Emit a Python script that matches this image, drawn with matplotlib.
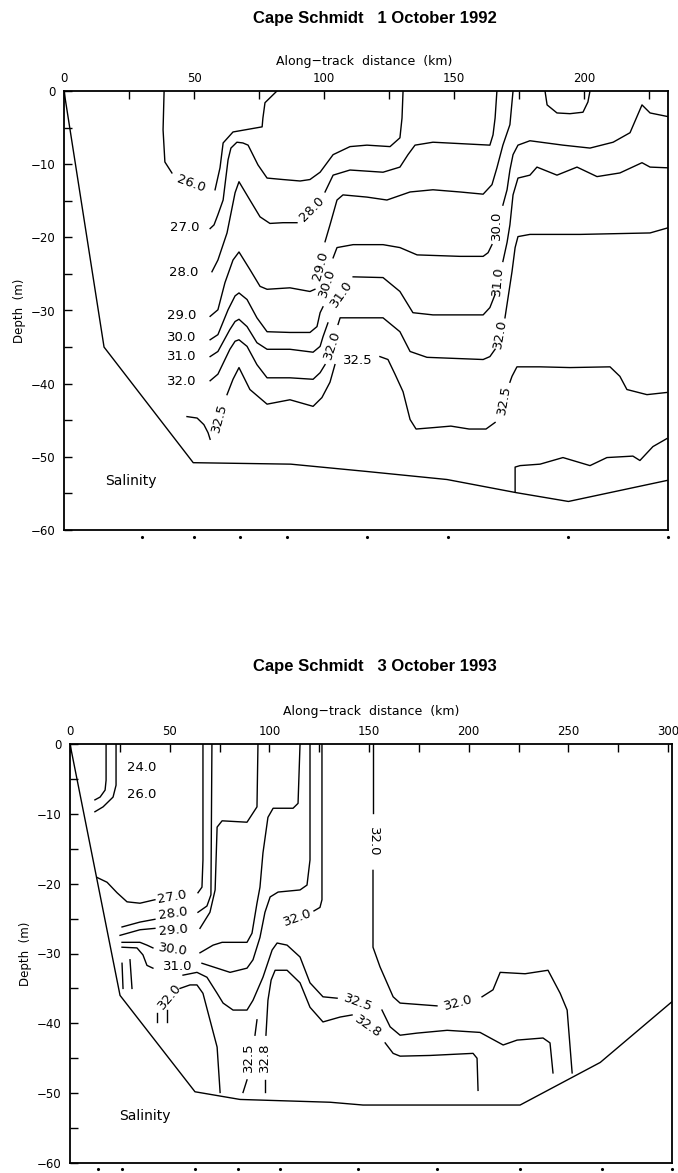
import matplotlib.pyplot as plt
from matplotlib.ticker import MultipleLocator

# ---------------- 1 October 1992 ----------------
bed92_km = [0, 15.4, 49.7, 87.2, 116.4, 147.3, 174.0, 194.0, 232.3]
bed92_depth = [0, -35.0, -50.8, -51.0, -52.0, -53.1, -54.9, -56.1, -53.2]
stations92 = [30.0, 50.0, 67.7, 85.8, 116.4, 147.6, 194.0, 232.3]

# contour pieces (km, depth)
s26_a = [(38.5, 0), (38.1, -5.3), (38.8, -9.7), (41.5, -11.2)]
s26_b = [(58.1, -13.5), (60.0, -10.5), (61.2, -7.1), (65.0, -5.6), (76.2, -4.9), (76.5, -3.7), (77.3, -1.6), (81.9, 0)]
s27 = [(56.2, -18.8), (57.7, -18.3), (59.2, -16.9), (61.2, -14.9), (63.1, -9.4), (64.2, -7.8), (66.5, -7.0),
       (68.8, -7.1), (70.8, -7.4), (74.6, -10.1), (78.1, -11.9), (84.2, -12.1), (90.8, -12.3), (94.6, -12.1),
       (98.5, -11.1), (103.5, -8.7), (110, -7.6), (116.5, -7.4), (125.4, -7.6), (129.2, -6.4), (130, -3.7), (130.4, 0)]
s28_a = [(56.9, -24.7), (59.2, -23.1), (62.7, -19.4), (65.8, -13.9), (67.3, -12.4), (71.5, -14.9), (75.4, -17.2),
         (79.2, -18.1), (84.2, -18.0), (89.6, -18.0)]
s28_b = [(100.4, -13.8), (103.5, -11.5), (110, -10.8), (122.7, -11.1), (129.2, -10.4), (132.3, -8.7), (135, -7.4),
         (141.9, -7.0), (163.8, -7.4), (165, -6.0), (165.8, -3.7), (166.5, 0)]
s29_a = [(56.2, -30.8), (59.2, -29.9), (61.9, -26.2), (65.0, -23.1), (67.3, -22.0), (71.5, -24.4), (75.4, -26.7),
         (78.1, -27.1), (86.9, -26.9), (94.6, -27.4), (96.5, -27.1)]
s29_b = [(100.4, -20.6), (102.3, -18.3), (105, -14.9), (107.3, -14.2), (116.5, -14.5), (124.2, -14.9), (133.1, -13.8),
         (141.9, -13.5), (152.3, -13.8), (161.2, -14.1), (164.6, -12.8), (166.5, -10.5), (168.8, -7.4), (171.5, -4.6),
         (172.7, 0)]
s30_a = [(56.2, -34.0), (59.2, -33.3), (63.1, -29.9), (65.8, -28.0), (67.3, -27.6), (70.4, -28.5), (74.2, -31.0),
         (78.1, -32.9), (86.9, -33.0), (94.6, -33.0), (97.3, -32.2), (98.5, -30.3), (99.6, -29.5)]
s30_b = [(103.5, -22.8), (105, -21.4), (111.2, -21.0), (122.7, -21.0), (129.2, -21.4), (135.8, -22.4), (152.3, -22.6),
         (161.2, -22.6), (163.1, -22.1), (164.6, -21.0)]
s30_c = [(168.8, -15.6), (170.4, -13.5), (171.5, -10.8), (172.7, -8.7), (174.6, -7.4), (179.2, -6.8), (191.9, -7.4),
         (202.3, -7.8), (211.2, -7.0), (217.7, -5.7), (222.3, -1.9), (225.4, -3.0), (232.3, -3.5)]
s31_a = [(56.2, -36.3), (59.2, -35.6), (63.8, -32.6), (65.8, -31.5), (67.3, -31.2), (70.4, -32.2), (74.2, -34.4),
         (78.1, -35.3), (86.9, -35.3), (95.8, -35.7), (98.5, -34.9), (99.6, -33.6), (101.5, -31.7)]
s31_b = [(111.2, -25.4), (122.7, -25.5), (129.2, -27.4), (134.2, -30.3), (141.9, -30.6), (161.2, -30.6),
         (163.8, -29.6), (165.8, -27.8)]
s31_c = [(168.8, -23.3), (170.4, -20.7), (171.5, -18.3), (172.7, -14.2), (174.6, -11.9), (179.2, -11.5),
         (181.9, -10.4), (189.6, -11.5), (197.3, -10.4), (205, -11.7), (213.8, -11.2), (222.3, -9.8), (225.4, -10.4),
         (232.3, -10.5)]
s32_a = [(56.2, -39.6), (59.2, -38.7), (63.8, -35.3), (65.8, -34.2), (67.3, -34.0), (70.4, -34.9), (74.2, -37.4),
         (78.1, -39.2), (86.9, -39.2), (95.8, -39.4), (98.5, -38.5), (100.4, -37.4)]
s32_b = [(105.4, -31.9), (106.2, -31.0), (122.7, -31.0), (129.2, -32.9), (133.1, -35.6), (139.6, -36.4),
         (161.2, -36.7), (163.8, -36.3), (165.8, -35.3)]
s32_c = [(169.6, -31.0), (170.8, -28.2), (172.3, -24.7), (173.5, -21.4), (174.6, -19.9), (179.2, -19.6),
         (198.5, -19.6), (225.4, -19.4), (232.3, -18.7)]
s325_a = [(47.3, -44.5), (51.2, -44.7), (53.8, -45.6), (55.4, -46.7), (56.2, -47.6)]
s325_b = [(62.7, -41.5), (65.0, -39.4), (67.3, -37.8), (71.5, -40.8), (78.1, -42.8), (86.9, -42.2), (95.8, -43.1),
          (99.2, -41.9), (102.3, -39.8), (104.2, -37.4)]
s325_c = [(121.5, -36.3), (124.6, -36.7), (127.3, -38.7), (130.4, -41.1), (133.1, -44.9), (135.4, -46.2),
          (142.3, -46.0), (148.8, -45.8), (155.8, -46.2), (162.3, -46.2), (165.8, -45.3)]
s325_d = [(171.5, -39.8), (172.3, -39.0), (174.2, -37.7), (183.1, -37.7), (194.6, -37.8), (210.0, -37.7),
          (213.8, -39.0), (216.5, -40.8), (224.2, -41.5), (231.9, -41.2)]
bowl92 = [(185, 0), (185.8, -1.9), (189.6, -3.0), (194.6, -3.1), (199.6, -2.9), (201.5, -1.5), (202.3, 0)]
deep92 = [(173.5, -54.8), (173.5, -51.4), (175.4, -51.2), (183.1, -51.0), (191.9, -50.1), (202.3, -51.2),
          (208.8, -50.1), (218.8, -49.9), (221.5, -50.5), (226.5, -48.6), (231.9, -47.5)]

lines92 = [s26_a, s26_b, s27, s28_a, s28_b, s29_a, s29_b, s30_a, s30_b, s30_c, s31_a, s31_b, s31_c,
           s32_a, s32_b, s32_c, s325_a, s325_b, s325_c, s325_d, bowl92, deep92]

labels92 = [("26.0", 48.8, -12.7, -20), ("27.0", 46.5, -18.6, 0), ("28.0", 46.0, -24.8, 0),
            ("29.0", 45.4, -30.7, 0), ("30.0", 45.4, -33.7, 0), ("31.0", 45.4, -36.3, 0),
            ("32.0", 45.4, -39.7, 0), ("32.5", 59.6, -44.6, 75), ("28.0", 95.4, -16.2, 45),
            ("29.0", 98.8, -23.9, 75), ("30.0", 101.2, -26.3, 72), ("31.0", 106.9, -27.8, 55),
            ("32.0", 103.1, -34.7, 72), ("32.5", 113.1, -36.8, 0), ("30.0", 166.5, -18.4, 90),
            ("31.0", 166.9, -25.9, 85), ("32.0", 167.7, -33.2, 80), ("32.5", 169.2, -42.2, 80)]

# ---------------- 3 October 1993 ----------------
bed93_km = [0, 25.1, 62.7, 85.3, 130.5, 147.0, 225.8, 266.0, 302.0]
bed93_depth = [0, -36.0, -49.8, -50.9, -51.3, -51.7, -51.7, -45.6, -36.9]
stations93 = [14.0, 26.1, 62.7, 84.3, 105.4, 144.5, 184.2, 225.8, 266.9, 302.0]

t24 = [(18.1, 0), (18.1, -5.2), (17.6, -6.6), (15.1, -7.6), (12.5, -8.0)]
t26 = [(23.1, 0), (23.1, -5.9), (21.6, -7.6), (16.6, -9.0), (12.5, -9.7)]
t27_a = [(13.5, -19.1), (18.6, -19.8), (23.6, -21.3), (28.6, -22.6), (35.1, -22.8), (42.6, -22.3)]
t27_b = [(64.2, -21.3), (66.2, -20.5), (66.7, -16.6), (66.7, 0)]
t28_a = [(26.1, -26.2), (35.1, -25.5), (42.6, -25.1)]
t28_b = [(64.2, -24.1), (68.7, -23.2), (70.7, -21.6), (71.2, 0)]
t29_a = [(25.1, -27.4), (35.1, -26.6), (42.6, -26.4)]
t29_b = [(65.2, -26.4), (70.2, -24.1), (72.8, -20.9), (73.8, -11.9), (76.3, -11.0), (88.8, -11.2), (93.8, -9.0),
         (94.3, 0)]
t30_a = [(26.1, -28.4), (35.1, -28.4), (38.6, -28.8), (41.6, -29.2)]
t30_b = [(65.2, -29.9), (71.8, -28.8), (76.3, -28.4), (88.8, -28.4), (91.3, -27.1), (93.8, -22.8), (95.3, -20.5),
         (96.8, -15.6), (99.3, -10.5), (101.9, -9.2), (111.9, -9.2), (114.4, -8.5), (115.4, 0)]
t31_a = [(26.1, -29.1), (33.6, -29.2), (36.6, -30.2), (38.6, -31.7), (41.6, -32.1)]
t31_b = [(66.2, -31.4), (73.8, -32.1), (80.3, -32.7), (88.8, -32.1), (91.8, -30.9), (95.3, -27.7), (97.8, -24.1),
         (100.4, -21.9), (104.4, -21.2), (115.4, -20.9), (118.9, -20.2), (120.4, -16.6), (120.4, 0)]
t32_top = [(122.4, -23.9), (125.4, -23.4), (126.4, -22.3), (126.4, 0)]
t32_low = [(55.2, -35.0), (60.2, -34.5), (63.7, -34.5), (66.7, -35.7), (70.2, -39.5), (73.8, -43.4), (75.3, -49.9)]
t32_stub1 = [(43.7, -38.5), (43.7, -39.8)]
t32_stub2 = [(48.7, -38.1), (48.7, -39.8)]
t_short1 = [(26.1, -31.4), (26.6, -35.0)]
t_short2 = [(30.1, -30.9), (31.1, -35.0)]
t325_a = [(56.7, -33.1), (63.7, -32.7), (68.7, -33.4), (73.8, -35.7), (76.8, -37.1), (81.8, -38.1), (88.8, -38.1),
          (91.8, -36.7), (96.8, -33.4), (101.4, -29.5), (103.9, -28.5), (108.9, -28.8), (115.4, -30.5),
          (120.4, -34.2), (126.9, -36.2), (134.0, -36.4)]
t325_b = [(156.5, -38.1), (160.6, -40.5), (165.6, -41.7), (174.1, -41.4), (189.2, -41.0), (205.7, -41.3),
          (217.3, -43.1), (224.3, -42.4), (237.3, -42.1), (240.8, -42.8), (242.3, -47.1)]
t325_up = [(92.8, -41.7), (93.8, -39.5)]
t325_stub = [(88.8, -48.1), (86.8, -49.9)]
t328_a = [(98.3, -41.7), (99.3, -36.7), (100.9, -33.8), (102.9, -32.4), (108.9, -32.4), (115.4, -34.2),
          (120.4, -37.7), (126.9, -39.8), (135.5, -39.1), (141.5, -38.8)]
t328_b = [(158.1, -42.8), (162.1, -44.3), (165.6, -44.7), (180.6, -44.6), (202.2, -44.3), (204.2, -45.0),
          (204.7, -49.6)]
t328_stub = [(97.8, -48.1), (97.8, -49.9)]
t32v_a = [(152.0, 0), (152.0, -9.9)]
t32v_b = [(152.0, -18.1), (152.0, -29.1), (155.5, -31.9), (162.1, -36.2), (165.6, -37.1), (184.1, -37.5)]
t32v_c = [(206.7, -36.2), (212.2, -35.2), (215.8, -32.7), (228.3, -32.9), (239.8, -32.4), (245.9, -35.7),
          (249.4, -38.1), (251.9, -47.1)]

lines93 = [t24, t26, t27_a, t27_b, t28_a, t28_b, t29_a, t29_b, t30_a, t30_b, t31_a, t31_b, t32_top, t32_low,
           t32_stub1, t32_stub2, t_short1, t_short2, t325_a, t325_b, t325_up, t325_stub, t328_a, t328_b,
           t328_stub, t32v_a, t32v_b, t32v_c]

labels93 = [("24.0", 36.1, -3.3, 0), ("26.0", 36.1, -7.3, 0), ("27.0", 51.2, -21.9, 10),
            ("28.0", 51.7, -24.3, 8), ("29.0", 51.7, -26.6, 5), ("30.0", 51.7, -29.5, -8),
            ("31.0", 54.2, -31.9, 0), ("32.0", 50.2, -36.2, 50), ("32.0", 114.4, -24.9, 20),
            ("32.0", 152.0, -14.0, -90), ("32.5", 89.3, -44.8, 90), ("32.8", 97.8, -44.8, 90),
            ("32.5", 144.5, -37.1, -20), ("32.8", 149.5, -40.5, -35), ("32.0", 194.7, -37.0, 15)]


def draw_panel(ax, xmax, bed_km, bed_depth, stations, lines, labels):
    ax.set_xlim(0, xmax)
    ax.set_ylim(-60, 0)
    ax.plot(bed_km, bed_depth, color='black', lw=1.0)
    for piece in lines:
        xs = [p[0] for p in piece]
        ys = [p[1] for p in piece]
        ax.plot(xs, ys, color='black', lw=1.0)
    for text, x, y, rot in labels:
        ax.text(x, y, text, rotation=rot, ha='center', va='center', fontsize=9.5,
                rotation_mode='anchor')
    ax.plot(stations, [-60.9] * len(stations), 'k.', ms=2.5, clip_on=False)
    ax.text(0.11 * 232.3 if xmax < 250 else 37.5, -53.3, 'Salinity', fontsize=10, ha='center', va='center')

    ax.xaxis.tick_top()
    ax.xaxis.set_major_locator(MultipleLocator(50))
    ax.xaxis.set_minor_locator(MultipleLocator(25))
    ax.yaxis.set_major_locator(MultipleLocator(10))
    ax.yaxis.set_minor_locator(MultipleLocator(5))
    ax.tick_params(which='both', direction='in', length=6, width=1.0,
                   top=True, bottom=False, left=True, right=False)
    ax.tick_params(axis='x', labelsize=8.5, pad=4)
    ax.tick_params(axis='y', labelsize=8.5, pad=6)
    for sp in ax.spines.values():
        sp.set_linewidth(1.3)
    ax.set_ylabel('Depth  (m)', fontsize=8.5)
    ax.yaxis.set_label_coords(-0.063, 0.5)


fig = plt.figure(figsize=(6.78, 11.73), dpi=100)
ax1 = fig.add_axes([64 / 678, 1 - 530 / 1173, 604 / 678, 439 / 1173])
ax2 = fig.add_axes([70 / 678, 1 - 1163 / 1173, 602 / 678, 419 / 1173])

draw_panel(ax1, 232.3, bed92_km, bed92_depth, stations92, lines92, labels92)
draw_panel(ax2, 302.0, bed93_km, bed93_depth, stations93, lines93, labels93)

fig.text(375 / 678, 1 - 18 / 1173, 'Cape Schmidt   1 October 1992', ha='center', va='center',
         fontsize=12, fontweight='bold', family='Liberation Sans')
fig.text(375 / 678, 1 - 667 / 1173, 'Cape Schmidt   3 October 1993', ha='center', va='center',
         fontsize=12, fontweight='bold', family='Liberation Sans')
fig.text(364 / 678, 1 - 61 / 1173, 'Along\u2212track  distance  (km)', ha='center', va='center', fontsize=9)
fig.text(371 / 678, 1 - 712 / 1173, 'Along\u2212track  distance  (km)', ha='center', va='center', fontsize=9)

fig.savefig('out.png', dpi=100)
